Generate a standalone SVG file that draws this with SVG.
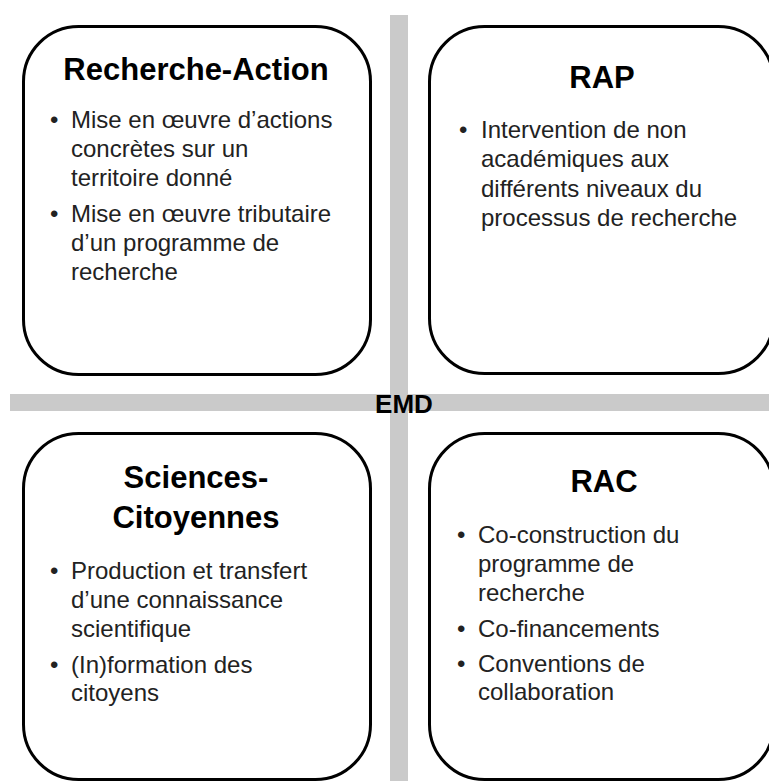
<svg xmlns="http://www.w3.org/2000/svg" width="769" height="781" viewBox="0 0 769 781">
<style>
.bar{fill:#cacaca}
.box{fill:#ffffff;stroke:#000000;stroke-width:3}
.title{font-family:"Liberation Sans",Arial,sans-serif;font-weight:bold;font-size:31px;fill:#000;text-anchor:middle}
.body{font-family:"Liberation Sans",Arial,sans-serif;font-size:24px;fill:#222}
.emd{font-family:"Liberation Sans",Arial,sans-serif;font-weight:bold;font-size:26px;fill:#000;text-anchor:middle}
</style>
<g id="axes">
<rect class="bar" x="390" y="15" width="18" height="766"/>
<rect class="bar" x="10" y="394" width="759" height="17"/>
<text class="emd" x="404" y="413">EMD</text>
</g>
<g id="recherche-action">
<rect class="box" x="23.5" y="26.5" width="347" height="348" rx="55" ry="55"/>
<text class="title" x="196" y="80">Recherche-Action</text>
<text class="body"><tspan x="50" y="128">•</tspan><tspan x="71" y="128">Mise en œuvre d’actions</tspan><tspan x="71" y="157">concrètes sur un</tspan><tspan x="71" y="186">territoire donné</tspan></text>
<text class="body"><tspan x="50" y="222">•</tspan><tspan x="71" y="222">Mise en œuvre tributaire</tspan><tspan x="71" y="251">d’un programme de</tspan><tspan x="71" y="280">recherche</tspan></text>
</g>
<g id="rap">
<rect class="box" x="429.5" y="26.5" width="344" height="347" rx="55" ry="55"/>
<text class="title" x="602" y="88">RAP</text>
<text class="body"><tspan x="459" y="138">•</tspan><tspan x="481" y="138">Intervention de non</tspan><tspan x="481" y="167">académiques aux</tspan><tspan x="481" y="197">différents niveaux du</tspan><tspan x="481" y="226">processus de recherche</tspan></text>
</g>
<g id="sciences-citoyennes">
<rect class="box" x="23.5" y="433.5" width="347" height="346" rx="55" ry="55"/>
<text class="title" x="196" y="488">Sciences-</text>
<text class="title" x="196" y="528">Citoyennes</text>
<text class="body"><tspan x="50" y="579">•</tspan><tspan x="71" y="579">Production et transfert</tspan><tspan x="71" y="608">d’une connaissance</tspan><tspan x="71" y="637">scientifique</tspan></text>
<text class="body"><tspan x="50" y="673">•</tspan><tspan x="71" y="673">(In)formation des</tspan><tspan x="71" y="701">citoyens</tspan></text>
</g>
<g id="rac">
<rect class="box" x="429.5" y="433.5" width="344" height="346" rx="55" ry="55"/>
<text class="title" x="604" y="492">RAC</text>
<text class="body"><tspan x="457" y="543">•</tspan><tspan x="478" y="543">Co-construction du</tspan><tspan x="478" y="572">programme de</tspan><tspan x="478" y="601">recherche</tspan></text>
<text class="body"><tspan x="457" y="637">•</tspan><tspan x="478" y="637">Co-financements</tspan></text>
<text class="body"><tspan x="457" y="672">•</tspan><tspan x="478" y="672">Conventions de</tspan><tspan x="478" y="700">collaboration</tspan></text>
</g>
</svg>
